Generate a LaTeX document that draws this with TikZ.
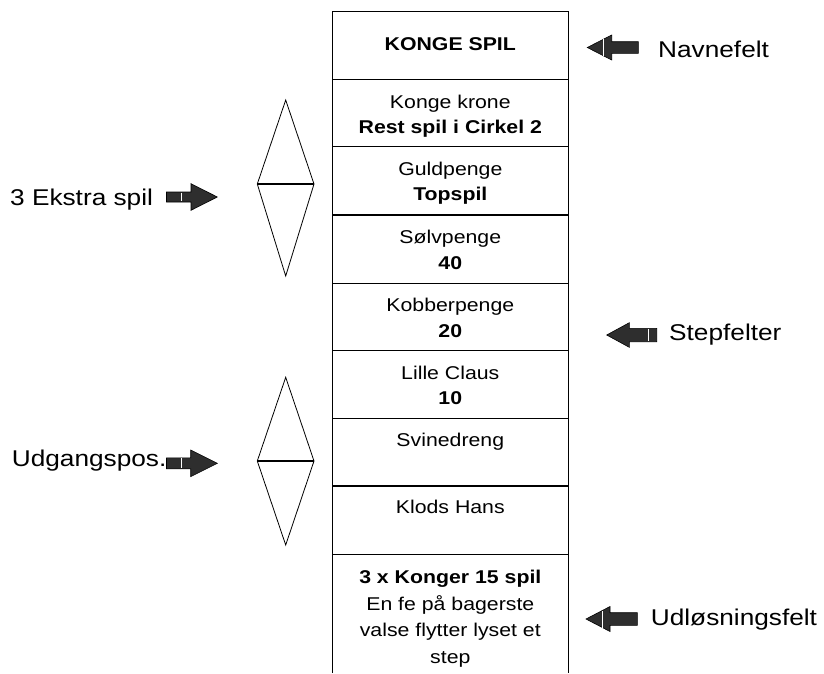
\documentclass[tikz,border=0pt]{standalone}
\usepackage{fontspec}
\setmainfont[FakeStretch=1.15]{Liberation Sans}
\newcommand\myarrowR[6]{% tail, back, tip, centre y, shaft half, head half
  \draw[arr] (#1,#4-#5) -- (#2,#4-#5) -- (#2,#4-#6) -- (#3,#4) -- (#2,#4+#6) -- (#2,#4+#5) -- (#1,#4+#5) -- cycle;}
\begin{document}
\begin{tikzpicture}[x=1pt,y=-1pt,
  boxtxt/.style={font=\fontsize{18.5}{26}\selectfont, inner sep=0pt, anchor=base},
  boldtxt/.style={boxtxt, font=\fontsize{18.5}{26}\selectfont\bfseries},
  lbl/.style={font=\fontsize{22.8}{28}\selectfont, inner sep=0pt, anchor=base west},
  col/.style={line width=1.1pt, draw=black},
  arr/.style={draw=black, line width=0.6pt, fill=black!82, line join=miter},
  stripe/.style={draw=white, line width=0.7pt},
  dia/.style={draw=black, line width=0.8pt, line join=miter}]
\useasboundingbox (0,0) rectangle (824,673);

% column
\draw[col] (332.3,673) -- (332.3,11.5) -- (568.3,11.5) -- (568.3,673);
\foreach \yy in {79.3,146.7,215,283.3,350.7,418.3,486,554.3}
  \draw[col] (332.3,\yy) -- (568.3,\yy);

% texts in the column
\node[boldtxt] (t1) at (450.3,50.7) {KONGE SPIL};
\node[boxtxt] (r2a) at (450.3,108.3) {Konge krone};
\node[boldtxt] (r2b) at (450.3,133.5) {Rest spil i Cirkel 2};
\node[boxtxt] (r3a) at (450.3,175.2) {Guldpenge};
\node[boldtxt] (r3b) at (450.3,200.7) {Topspil};
\node[boxtxt] (r4a) at (450.3,243.5) {Sølvpenge};
\node[boldtxt] (r4b) at (450.3,269) {40};
\node[boxtxt] (r5a) at (450.3,311.8) {Kobberpenge};
\node[boldtxt] (r5b) at (450.3,337.3) {20};
\node[boxtxt] (r6a) at (450.3,379.2) {Lille Claus};
\node[boldtxt] (r6b) at (450.3,404.7) {10};
\node[boxtxt] (r7a) at (450.3,446.8) {Svinedreng};
\node[boxtxt] (r8a) at (450.3,513.5) {Klods Hans};
\node[boldtxt] (r9a) at (450.3,583.3) {3 x Konger 15 spil};
\node[boxtxt] (r9b) at (450.3,610) {En fe på bagerste};
\node[boxtxt] (r9c) at (450.3,636.7) {valse flytter lyset et};
\node[boxtxt] (r9d) at (450.3,663.3) {step};

% diamonds
\draw[dia] (285.7,100) -- (314,184) -- (285.7,276) -- (257.3,184) -- cycle;
\draw[dia, line width=1.1pt] (257.3,184) -- (314,184);
\draw[dia] (285.7,377.3) -- (314,461) -- (285.7,545) -- (257.3,461) -- cycle;
\draw[dia, line width=1.1pt] (257.3,461) -- (314,461);

% block arrows
\myarrowR{166.5}{191}{217.3}{197}{5}{13.3}
\draw[stripe] (181,192.6) -- (181,201.4);
\myarrowR{166.5}{190.7}{217.3}{463.3}{5.5}{13.3}
\draw[stripe] (181.7,458.4) -- (181.7,468.2);
\myarrowR{638.3}{611.7}{587.3}{47.5}{5.8}{12.5}
\draw[stripe] (603.3,39) -- (603.3,56);
\myarrowR{656.7}{629.3}{606.7}{335}{6.7}{12.3}
\draw[stripe] (648.3,328.9) -- (648.3,341.1);
\myarrowR{637.3}{610}{586}{619}{6.3}{12.5}
\draw[stripe] (602.7,610.5) -- (602.7,627.5);

% labels
\node[lbl] (l1) at (10,205) {3 Ekstra spil};
\node[lbl] (l2) at (11.7,466) {Udgangspos.};
\node[lbl] (l3) at (658,57.7) {Navnefelt};
\node[lbl] (l4) at (669,340.7) {Stepfelter};
\node[lbl] (l5) at (650.7,625.7) {Udløsningsfelt};
\end{tikzpicture}
\end{document}
